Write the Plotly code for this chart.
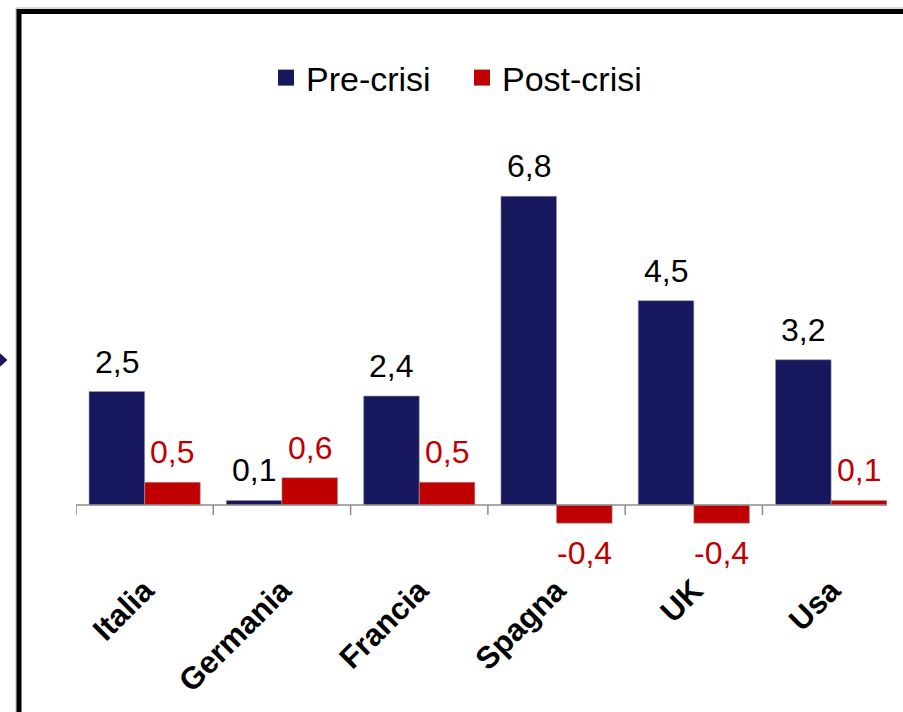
import plotly.graph_objects as go

# Data
categories = ["Italia", "Germania", "Francia", "Spagna", "UK", "Usa"]
pre_crisi = [2.5, 0.1, 2.4, 6.8, 4.5, 3.2]
post_crisi = [0.5, 0.6, 0.5, -0.4, -0.4, 0.1]
series_names = ["Pre-crisi", "Post-crisi"]

NAVY = "#17175E"
RED = "#C00000"
FONT = "Liberation Sans, Arial, sans-serif"

W, H = 903, 712
ML, MR, MT, MB = 76, 16, 120, 147
plot_w = W - ML - MR
plot_h = H - MT - MB


def px_x(px):
    return (px - ML) / plot_w


def px_y(py):
    return (H - MB - py) / plot_h


fig = go.Figure()

for name, vals, col in [(series_names[0], pre_crisi, NAVY), (series_names[1], post_crisi, RED)]:
    fig.add_trace(go.Bar(
        x=categories, y=vals, name=name, showlegend=False,
        marker=dict(color=col, line=dict(color="#9a9a9a", width=0.6)),
    ))
    # legend swatch
    fig.add_trace(go.Scatter(
        x=[None], y=[None], mode="markers", name=name,
        marker=dict(symbol="square", size=18, color=col),
    ))

# value labels
off = 0.2025
annotations = []
for i, (a, b) in enumerate(zip(pre_crisi, post_crisi)):
    for v, dx, col in [(a, -off, "black"), (b, off, RED)]:
        annotations.append(dict(
            x=i + dx, y=v, xref="x", yref="y",
            text=f"{v:.1f}".replace(".", ","),
            showarrow=False, yanchor="middle",
            yshift=30 if v >= 0 else -30,
            font=dict(family=FONT, size=32, color=col),
        ))

shapes = []
# zero axis line
shapes.append(dict(type="line", xref="paper", yref="y", x0=0, x1=1, y0=0, y1=0,
                   line=dict(color="#8c8c8c", width=1.5)))
# category separator ticks
for k in range(len(categories)):
    shapes.append(dict(type="line", xref="x", yref="y", x0=k - 0.5, x1=k - 0.5,
                       y0=0, y1=-0.22, line=dict(color="#8c8c8c", width=1.5)))

# outer frame (left and top edges)
shapes.append(dict(type="line", xref="paper", yref="paper",
                   x0=px_x(16), x1=px_x(16), y0=px_y(8), y1=px_y(720),
                   line=dict(color="#b4b4b4", width=1)))
shapes.append(dict(type="line", xref="paper", yref="paper",
                   x0=px_x(16), x1=px_x(910), y0=px_y(8), y1=px_y(8),
                   line=dict(color="#b4b4b4", width=1)))
shapes.append(dict(type="line", xref="paper", yref="paper",
                   x0=px_x(19), x1=px_x(19), y0=px_y(9), y1=px_y(720),
                   line=dict(color="black", width=5)))
shapes.append(dict(type="line", xref="paper", yref="paper",
                   x0=px_x(17), x1=px_x(910), y0=px_y(11.5), y1=px_y(11.5),
                   line=dict(color="black", width=5)))

# small pointer on the left edge
shapes.append(dict(
    type="path", xref="paper", yref="paper",
    path=(f"M {px_x(-2)},{px_y(351.5)} L {px_x(7.5)},{px_y(360)} "
          f"L {px_x(-2)},{px_y(368.5)} Z"),
    fillcolor=NAVY, line=dict(width=0),
))

fig.update_layout(
    width=W, height=H,
    margin=dict(l=ML, r=MR, t=MT, b=MB, pad=0),
    paper_bgcolor="white", plot_bgcolor="white",
    barmode="group", bargap=0.19, bargroupgap=0,
    font=dict(family=FONT, color="black"),
    showlegend=True,
    legend=dict(
        orientation="h", x=px_x(266), xanchor="left",
        y=px_y(78), yanchor="middle",
        font=dict(family=FONT, size=34, color="black"),
        entrywidth=151, entrywidthmode="pixels",
        bgcolor="rgba(0,0,0,0)", borderwidth=0,
    ),
    xaxis=dict(
        type="category", range=[-0.5, 5.407],
        showline=False, showgrid=False, zeroline=False, ticks="",
        tickangle=-45,
        tickfont=dict(family=FONT, size=31, color="black", weight="bold"),
    ),
    yaxis=dict(
        range=[-(H - MB - 505) / 45.4, (505 - MT) / 45.4],
        visible=False, showgrid=False, zeroline=False,
    ),
    annotations=annotations,
    shapes=shapes,
)

fig.write_html("out.html")
